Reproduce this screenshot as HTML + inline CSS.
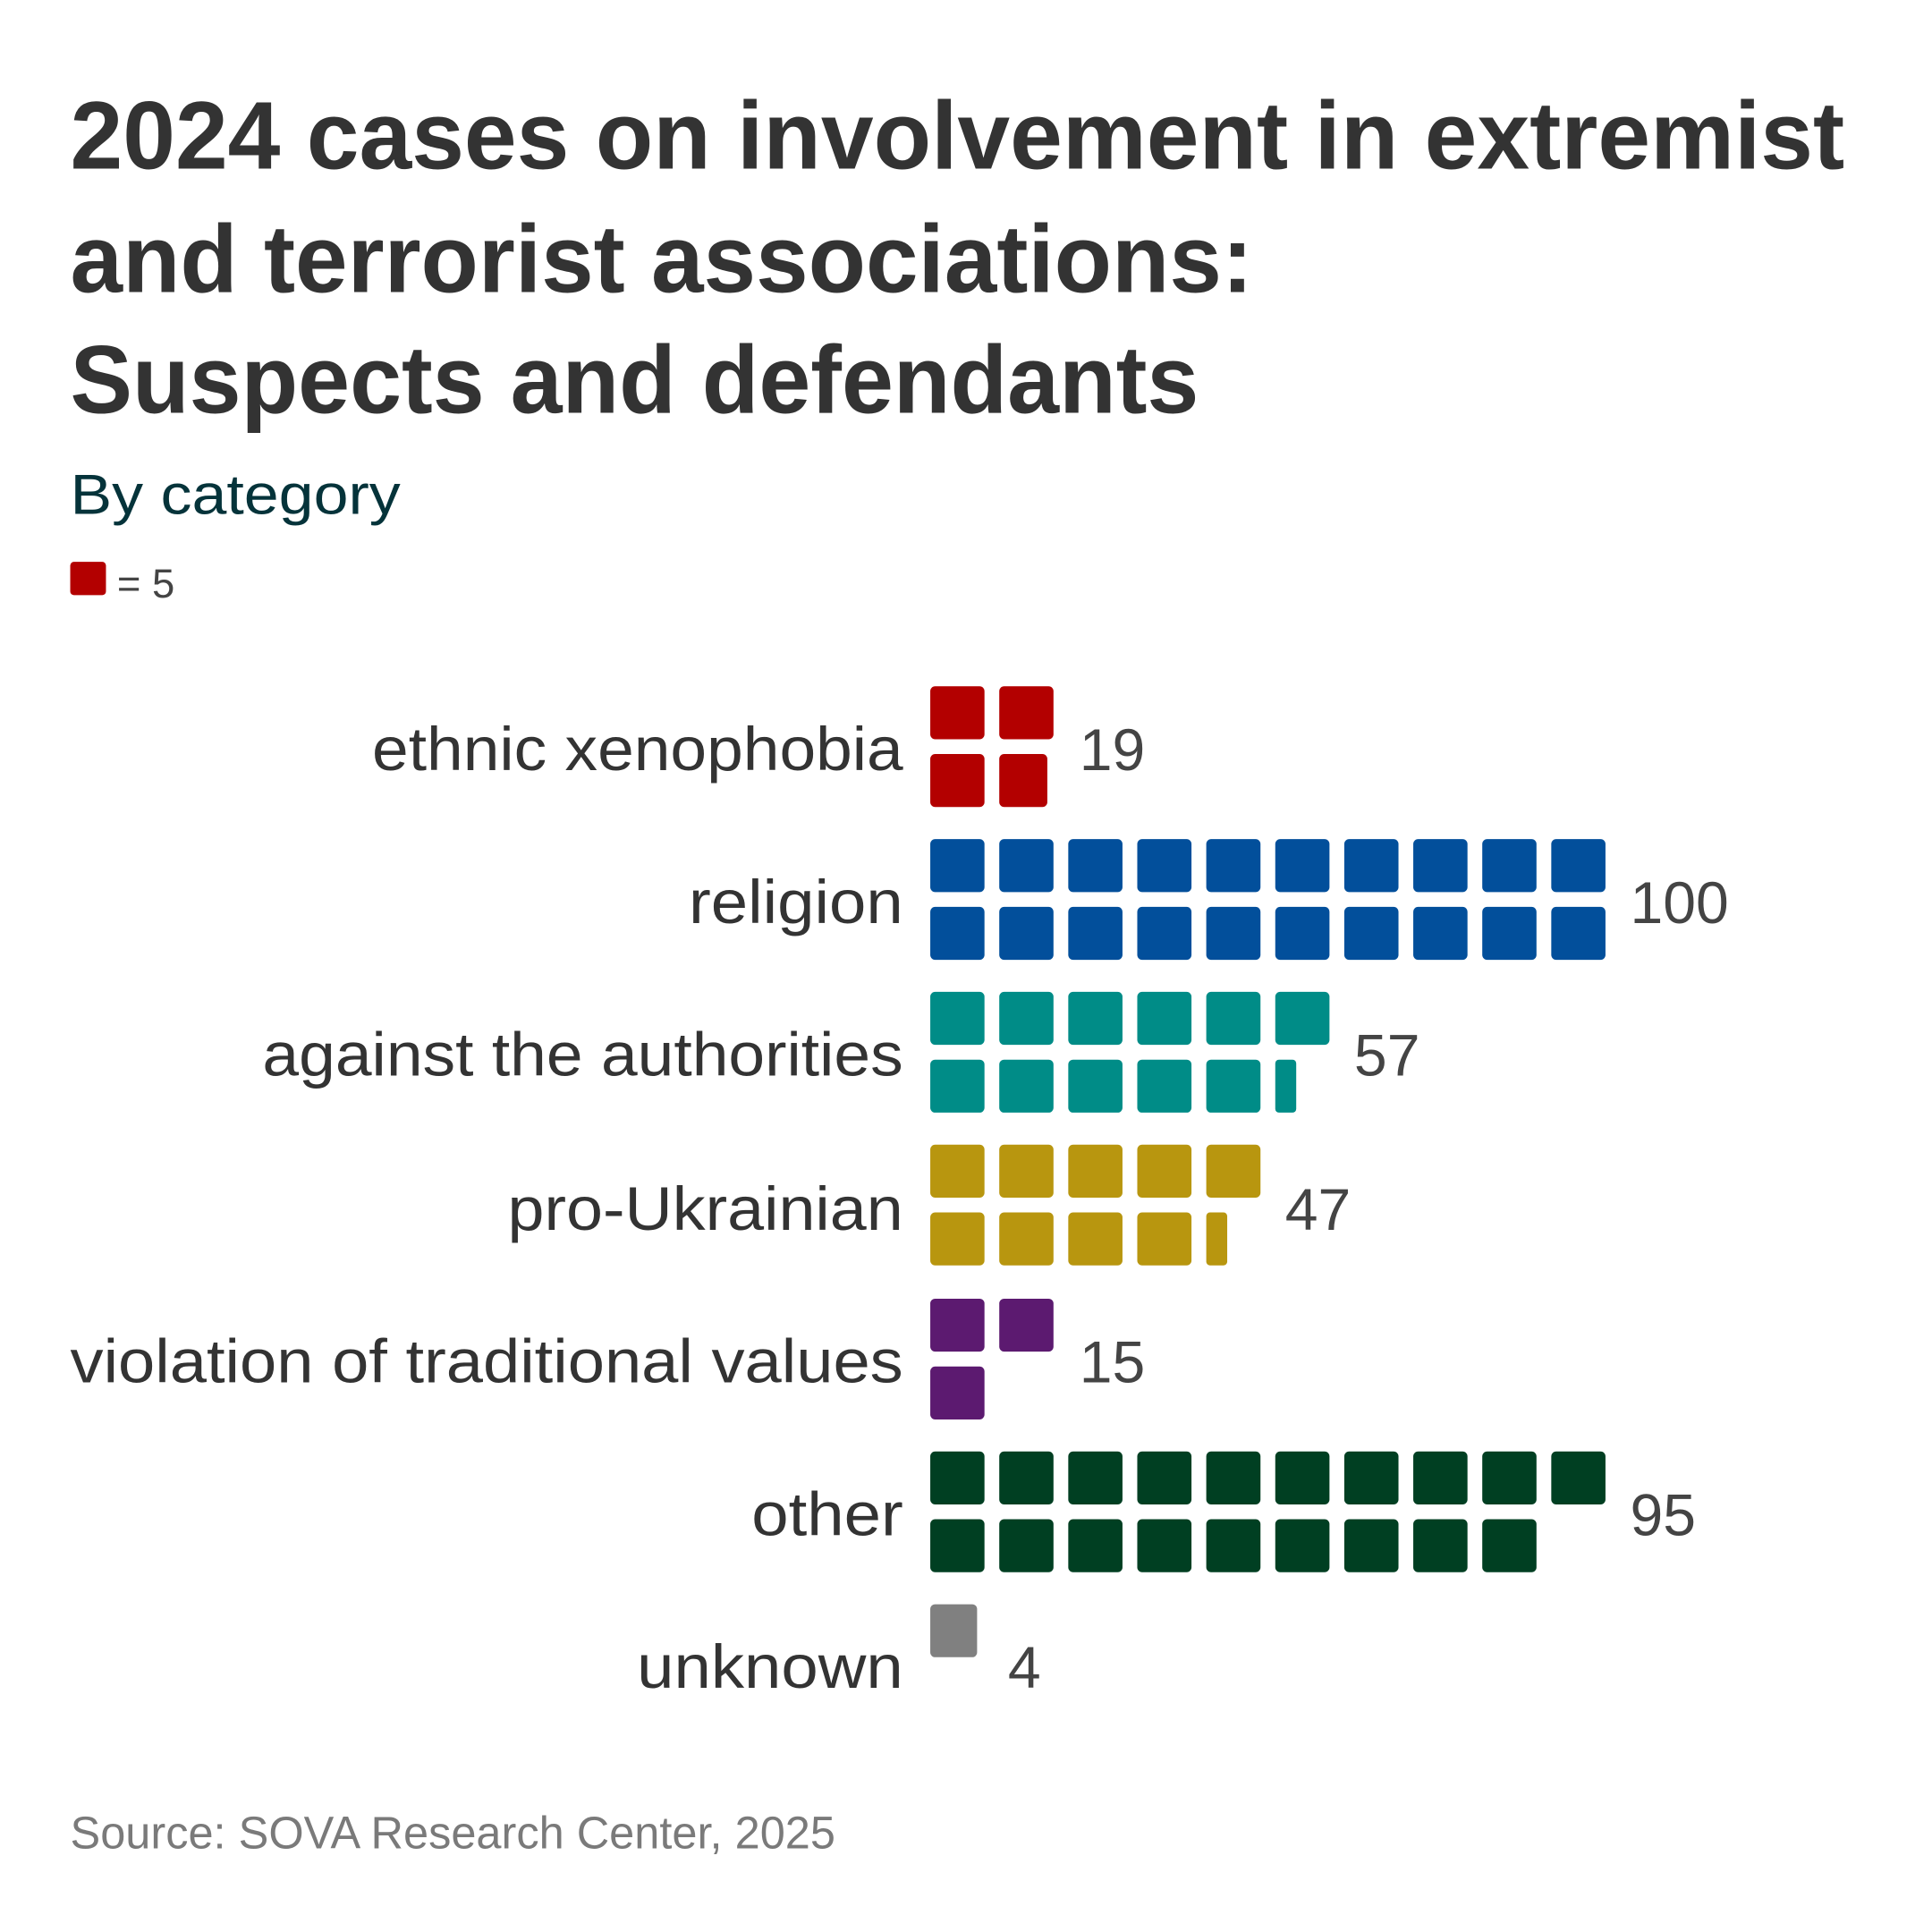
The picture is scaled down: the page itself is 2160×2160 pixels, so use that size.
<!DOCTYPE html>
<html><head><meta charset="utf-8"><style>
html,body{margin:0;padding:0;background:#fff;}
svg{display:block;}
text{font-family:"Liberation Sans",sans-serif;}
</style></head><body>
<svg width="2160" height="2160" viewBox="0 0 1568 1568" xmlns="http://www.w3.org/2000/svg">
<rect width="1568" height="1568" fill="#fff"/>
<g fill="#333" font-weight="bold" font-size="78">
<text x="57" y="137" textLength="1440" lengthAdjust="spacingAndGlyphs">2024 cases on involvement in extremist</text>
<text x="57" y="237" textLength="960" lengthAdjust="spacingAndGlyphs">and terrorist associations:</text>
<text x="57" y="335" textLength="916" lengthAdjust="spacingAndGlyphs">Suspects and defendants</text>
</g>
<text x="57" y="417" font-size="46" fill="#05333a" textLength="268" lengthAdjust="spacingAndGlyphs">By category</text>
<rect x="57" y="456" width="29" height="27" rx="3" fill="#b30000"/>
<text x="95" y="485" font-size="33" fill="#444">= 5</text>
<g font-size="50" fill="#333" text-anchor="end">
<text x="733" y="625" textLength="431" lengthAdjust="spacingAndGlyphs">ethnic xenophobia</text>
<text x="733" y="749" textLength="174" lengthAdjust="spacingAndGlyphs">religion</text>
<text x="733" y="873" textLength="520" lengthAdjust="spacingAndGlyphs">against the authorities</text>
<text x="733" y="998" textLength="321" lengthAdjust="spacingAndGlyphs">pro-Ukrainian</text>
<text x="733" y="1122" textLength="676" lengthAdjust="spacingAndGlyphs">violation of traditional values</text>
<text x="733" y="1246" textLength="123" lengthAdjust="spacingAndGlyphs">other</text>
<text x="733" y="1370" textLength="216" lengthAdjust="spacingAndGlyphs">unknown</text>
</g>
<g font-size="48" fill="#444">
<text x="876" y="625">19</text>
<text x="1323" y="749">100</text>
<text x="1099" y="873">57</text>
<text x="1043" y="998">47</text>
<text x="876" y="1122">15</text>
<text x="1323" y="1246">95</text>
<text x="818" y="1370">4</text>
</g>
<g fill="#b30000">
<rect x="755" y="557" width="44" height="43" rx="4"/><rect x="811" y="557" width="44" height="43" rx="4"/>
<rect x="755" y="612" width="44" height="43" rx="4"/><rect x="811" y="612" width="39" height="43" rx="4"/>
</g>
<g fill="#024f9b">
<rect x="755" y="681" width="44" height="43" rx="4"/><rect x="811" y="681" width="44" height="43" rx="4"/><rect x="867" y="681" width="44" height="43" rx="4"/><rect x="923" y="681" width="44" height="43" rx="4"/><rect x="979" y="681" width="44" height="43" rx="4"/><rect x="1035" y="681" width="44" height="43" rx="4"/><rect x="1091" y="681" width="44" height="43" rx="4"/><rect x="1147" y="681" width="44" height="43" rx="4"/><rect x="1203" y="681" width="44" height="43" rx="4"/><rect x="1259" y="681" width="44" height="43" rx="4"/>
<rect x="755" y="736" width="44" height="43" rx="4"/><rect x="811" y="736" width="44" height="43" rx="4"/><rect x="867" y="736" width="44" height="43" rx="4"/><rect x="923" y="736" width="44" height="43" rx="4"/><rect x="979" y="736" width="44" height="43" rx="4"/><rect x="1035" y="736" width="44" height="43" rx="4"/><rect x="1091" y="736" width="44" height="43" rx="4"/><rect x="1147" y="736" width="44" height="43" rx="4"/><rect x="1203" y="736" width="44" height="43" rx="4"/><rect x="1259" y="736" width="44" height="43" rx="4"/>
</g>
<g fill="#008c87">
<rect x="755" y="805" width="44" height="43" rx="4"/><rect x="811" y="805" width="44" height="43" rx="4"/><rect x="867" y="805" width="44" height="43" rx="4"/><rect x="923" y="805" width="44" height="43" rx="4"/><rect x="979" y="805" width="44" height="43" rx="4"/><rect x="1035" y="805" width="44" height="43" rx="4"/>
<rect x="755" y="860" width="44" height="43" rx="4"/><rect x="811" y="860" width="44" height="43" rx="4"/><rect x="867" y="860" width="44" height="43" rx="4"/><rect x="923" y="860" width="44" height="43" rx="4"/><rect x="979" y="860" width="44" height="43" rx="4"/><rect x="1035" y="860" width="17" height="43" rx="3"/>
</g>
<g fill="#b8960f">
<rect x="755" y="929" width="44" height="43" rx="4"/><rect x="811" y="929" width="44" height="43" rx="4"/><rect x="867" y="929" width="44" height="43" rx="4"/><rect x="923" y="929" width="44" height="43" rx="4"/><rect x="979" y="929" width="44" height="43" rx="4"/>
<rect x="755" y="984" width="44" height="43" rx="4"/><rect x="811" y="984" width="44" height="43" rx="4"/><rect x="867" y="984" width="44" height="43" rx="4"/><rect x="923" y="984" width="44" height="43" rx="4"/><rect x="979" y="984" width="17" height="43" rx="3"/>
</g>
<g fill="#5c1a70">
<rect x="755" y="1054" width="44" height="43" rx="4"/><rect x="811" y="1054" width="44" height="43" rx="4"/>
<rect x="755" y="1109" width="44" height="43" rx="4"/>
</g>
<g fill="#003f22">
<rect x="755" y="1178" width="44" height="43" rx="4"/><rect x="811" y="1178" width="44" height="43" rx="4"/><rect x="867" y="1178" width="44" height="43" rx="4"/><rect x="923" y="1178" width="44" height="43" rx="4"/><rect x="979" y="1178" width="44" height="43" rx="4"/><rect x="1035" y="1178" width="44" height="43" rx="4"/><rect x="1091" y="1178" width="44" height="43" rx="4"/><rect x="1147" y="1178" width="44" height="43" rx="4"/><rect x="1203" y="1178" width="44" height="43" rx="4"/><rect x="1259" y="1178" width="44" height="43" rx="4"/>
<rect x="755" y="1233" width="44" height="43" rx="4"/><rect x="811" y="1233" width="44" height="43" rx="4"/><rect x="867" y="1233" width="44" height="43" rx="4"/><rect x="923" y="1233" width="44" height="43" rx="4"/><rect x="979" y="1233" width="44" height="43" rx="4"/><rect x="1035" y="1233" width="44" height="43" rx="4"/><rect x="1091" y="1233" width="44" height="43" rx="4"/><rect x="1147" y="1233" width="44" height="43" rx="4"/><rect x="1203" y="1233" width="44" height="43" rx="4"/>
</g>
<rect x="755" y="1302" width="38" height="43" rx="4" fill="#808080"/>
<text x="57" y="1500" font-size="37" fill="#7a7a7a" textLength="621" lengthAdjust="spacingAndGlyphs">Source: SOVA Research Center, 2025</text>
</svg>
</body></html>
